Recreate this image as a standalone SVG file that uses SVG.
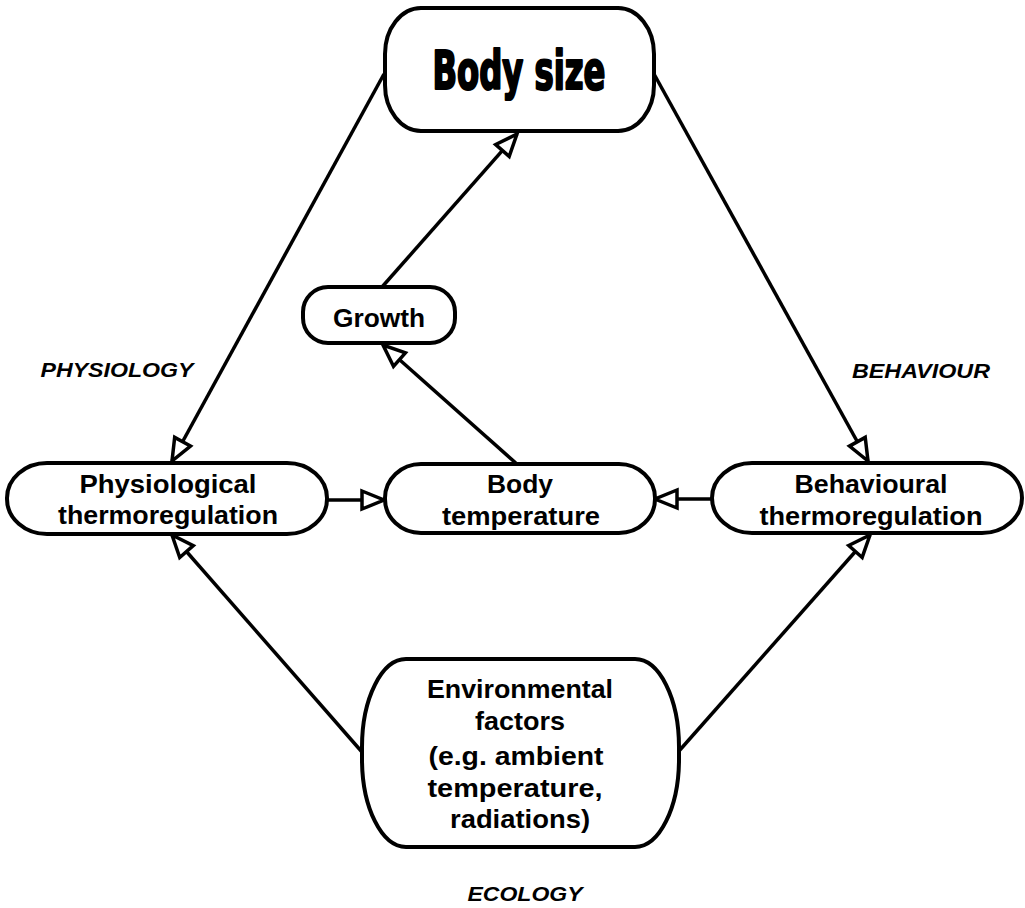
<svg xmlns="http://www.w3.org/2000/svg" width="1025" height="908" viewBox="0 0 1025 908">
<style>
.node{fill:#fff;stroke:#000;stroke-width:4}
.lbl{font-family:"Liberation Sans",Arial,sans-serif;font-weight:bold;font-size:25px;fill:#000;text-anchor:middle}
.area{font-family:"Liberation Sans",Arial,sans-serif;font-weight:bold;font-style:italic;font-size:21px;fill:#000;text-anchor:middle}
.title{font-family:"DejaVu Sans Condensed","DejaVu Sans",sans-serif;font-weight:bold;font-stretch:condensed;font-size:53px;fill:#000;stroke:#000;stroke-width:2.2;stroke-linejoin:round;text-anchor:middle}
.conn line{stroke:#000;stroke-width:3.5;marker-end:url(#arr)}
</style>
<defs>
<marker id="arr" markerUnits="userSpaceOnUse" markerWidth="30" markerHeight="26" viewBox="0 0 30 26" refX="25" refY="13" orient="auto">
<path d="M3,4 L25,13 L3,22 Z" fill="#fff" stroke="#000" stroke-width="3.5" stroke-linejoin="miter"/>
</marker>
</defs>
<rect width="1025" height="908" fill="#fff"/>
<g id="connectors" class="conn">
<line x1="384" y1="74" x2="172" y2="461"/>
<line x1="654" y1="74" x2="868" y2="461"/>
<line x1="382" y1="287" x2="517" y2="134"/>
<line x1="518" y1="465" x2="383" y2="345"/>
<line x1="327" y1="500" x2="384" y2="500"/>
<line x1="712" y1="499" x2="655" y2="499"/>
<line x1="362" y1="752" x2="172" y2="535"/>
<line x1="679" y1="751" x2="870" y2="535"/>
</g>
<g id="body-size">
<rect class="node" x="385" y="8" width="269" height="123" rx="36" ry="46"/>
<text class="title" x="519" y="89" textLength="173" lengthAdjust="spacingAndGlyphs">Body size</text>
</g>
<g id="growth">
<rect class="node" x="303" y="287" width="152" height="56" rx="25" ry="25"/>
<text class="lbl" x="379" y="327" textLength="92" lengthAdjust="spacingAndGlyphs">Growth</text>
</g>
<g id="physiological">
<rect class="node" x="7" y="463" width="320" height="71" rx="40" ry="35"/>
<text class="lbl" x="168" y="493" textLength="177" lengthAdjust="spacingAndGlyphs">Physiological</text>
<text class="lbl" x="168" y="524" textLength="220" lengthAdjust="spacingAndGlyphs">thermoregulation</text>
</g>
<g id="body-temperature">
<rect class="node" x="385" y="464" width="270" height="69" rx="36" ry="34"/>
<text class="lbl" x="520" y="493" textLength="66" lengthAdjust="spacingAndGlyphs">Body</text>
<text class="lbl" x="521" y="525" textLength="158" lengthAdjust="spacingAndGlyphs">temperature</text>
</g>
<g id="behavioural">
<rect class="node" x="712" y="463" width="310" height="70" rx="40" ry="35"/>
<text class="lbl" x="871" y="493" textLength="153" lengthAdjust="spacingAndGlyphs">Behavioural</text>
<text class="lbl" x="871" y="525" textLength="223" lengthAdjust="spacingAndGlyphs">thermoregulation</text>
</g>
<g id="environmental">
<rect class="node" x="362" y="659" width="317" height="188" rx="44" ry="88"/>
<text class="lbl" x="520" y="698" textLength="186" lengthAdjust="spacingAndGlyphs">Environmental</text>
<text class="lbl" x="520" y="730" textLength="90" lengthAdjust="spacingAndGlyphs">factors</text>
<text class="lbl" x="516" y="765" textLength="175" lengthAdjust="spacingAndGlyphs">(e.g. ambient</text>
<text class="lbl" x="515" y="797" textLength="175" lengthAdjust="spacingAndGlyphs">temperature,</text>
<text class="lbl" x="520" y="828" textLength="140" lengthAdjust="spacingAndGlyphs">radiations)</text>
</g>
<g id="labels">
<text class="area" x="117" y="377" textLength="153" lengthAdjust="spacingAndGlyphs">PHYSIOLOGY</text>
<text class="area" x="921" y="378" textLength="138" lengthAdjust="spacingAndGlyphs">BEHAVIOUR</text>
<text class="area" x="525" y="901" textLength="115" lengthAdjust="spacingAndGlyphs">ECOLOGY</text>
</g>
</svg>
